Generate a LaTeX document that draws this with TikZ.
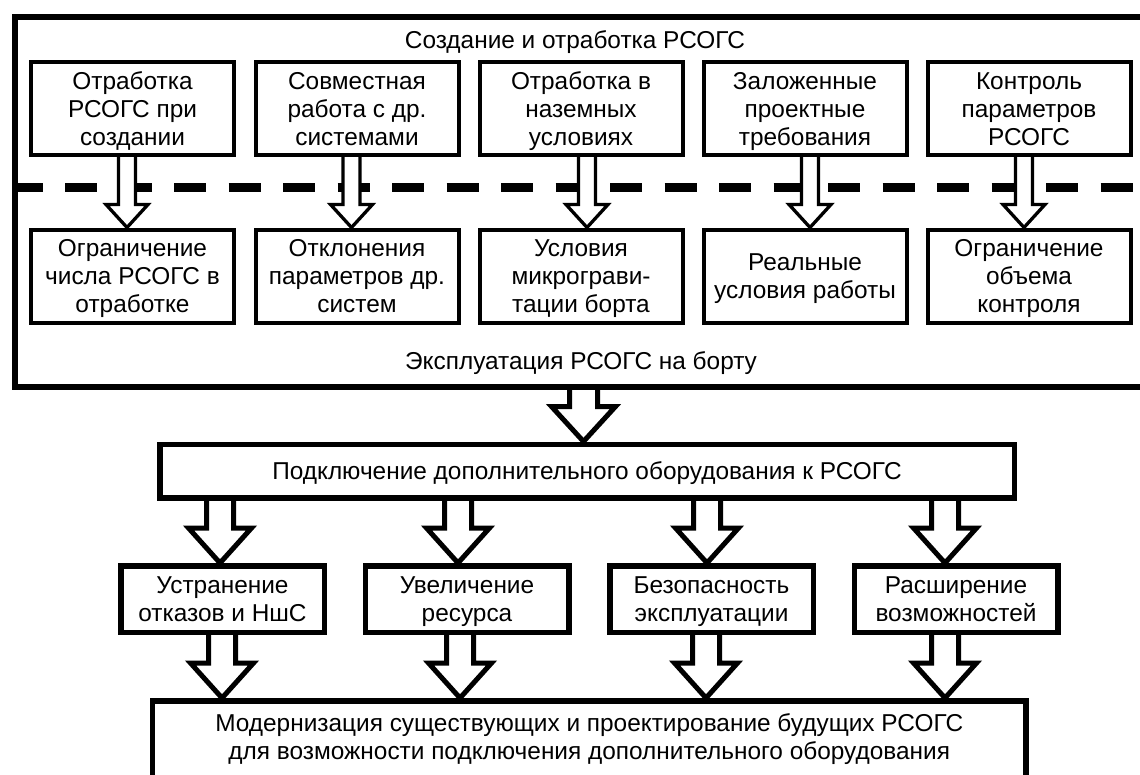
\documentclass[tikz,border=0pt]{standalone}
\usepackage{fontspec}
\setmainfont{Liberation Sans}
\usetikzlibrary{calc}
\pgfdeclarelayer{bg}
\pgfsetlayers{bg,main}
\newcommand\topstr{\rule{0pt}{26pt}}
\newcommand\botstr{\rule[-8.4pt]{0pt}{8.4pt}}
\tikzset{
  txt/.style={font=\fontsize{24.4}{28}\selectfont, align=center, inner sep=0pt},
  topbox/.style={txt, draw, fill=white, line width=4pt, minimum width=203pt, minimum height=93pt},
  lowbox/.style={txt, draw, fill=white, line width=5.5pt, minimum width=203.5pt, minimum height=66.5pt},
  thinarr/.style={draw, fill=white, line width=3.3pt, line join=miter},
  thickarr/.style={draw, fill=white, line width=5pt, line join=miter},
}
\newcommand\blockarr[7]{%
  \path[#1] let \p1=(#4,0), \p2=(#2.south), \p3=(#3.north) in
  (\x1-#5,\y2) -- (\x1-#5,\y3+#7) -- (\x1-#6,\y3+#7) -- (\x1,\y3)
  -- (\x1+#6,\y3+#7) -- (\x1+#5,\y3+#7) -- (\x1+#5,\y2);}
\begin{document}
\begin{tikzpicture}[x=1pt,y=-1pt]
\clip (0,0) rectangle (1140,774);
% outer frame
\node[draw, line width=6pt, inner sep=0pt, minimum width=1200pt, minimum height=370pt, anchor=north west] (frame) at (12,14) {};
\node[txt] (ttop) at (575,40) {\topstr Создание и отработка РСОГС\botstr};
\node[txt] (tbot) at (581,361) {\topstr Эксплуатация РСОГС на борту\botstr};
% row 1
\node[topbox] (a1) at (132.5,108.5) {\topstr Отработка\\РСОГС при\\создании\botstr};
\node[topbox] (a2) at (357,108.5) {\topstr Совместная\\работа с др.\\системами\botstr};
\node[topbox] (a3) at (581,108.5) {\topstr Отработка в\\наземных\\условиях\botstr};
\node[topbox] (a4) at (805,108.5) {\topstr Заложенные\\проектные\\требования\botstr};
\node[topbox] (a5) at (1029,108.5) {\topstr Контроль\\параметров\\РСОГС\botstr};
% row 2
\node[topbox] (b1) at (132.5,276) {\topstr Ограничение\\числа РСОГС в\\отработке\botstr};
\node[topbox] (b2) at (357,276) {\topstr Отклонения\\параметров др.\\систем\botstr};
\node[topbox] (b3) at (581,276) {\topstr Условия\\микрограви-\\тации борта\botstr};
\node[topbox] (b4) at (805,276) {\topstr Реальные\\условия работы\botstr};
\node[topbox] (b5) at (1029,276) {\topstr Ограничение\\объема\\контроля\botstr};
% lower part
\node[txt, draw, fill=white, line width=5.5pt, minimum width=854.5pt, minimum height=53.5pt] (p) at (587,471) {\topstr Подключение дополнительного оборудования к РСОГС\botstr};
\node[lowbox] (c1) at (222.5,599) {\topstr Устранение\\отказов и НшС\botstr};
\node[lowbox] (c2) at (467,599) {\topstr Увеличение\\ресурса\botstr};
\node[lowbox] (c3) at (711.5,599) {\topstr Безопасность\\эксплуатации\botstr};
\node[lowbox] (c4) at (956,599) {\topstr Расширение\\возможностей\botstr};
\node[txt, draw, fill=white, line width=5.5pt, minimum width=873.5pt, inner ysep=5pt, anchor=north] (m) at (589.25,698) {\topstr Модернизация существующих и проектирование будущих РСОГС\\для возможности подключения дополнительного оборудования\rule[-30pt]{0pt}{1pt}};
\begin{pgfonlayer}{bg}
\fill[white] (0,0) rectangle (1140,774);
\draw[line width=9pt, dash pattern=on 32pt off 22.5pt, dash phase=1.5pt] (12,187) -- (1160,187);
\blockarr{thinarr}{a1}{b1}{127}{8.5pt}{21pt}{23pt}
\blockarr{thinarr}{a2}{b2}{351.5}{8.5pt}{21pt}{23pt}
\blockarr{thinarr}{a3}{b3}{587}{8.5pt}{21pt}{23pt}
\blockarr{thinarr}{a4}{b4}{810}{8.5pt}{21pt}{23pt}
\blockarr{thinarr}{a5}{b5}{1024}{8.5pt}{21pt}{23pt}
\blockarr{thickarr}{frame}{p}{583.5}{14pt}{32pt}{35pt}
\blockarr{thickarr}{p}{c1}{220}{13.5pt}{31.5pt}{35pt}
\blockarr{thickarr}{p}{c2}{458}{13.5pt}{31.5pt}{35pt}
\blockarr{thickarr}{p}{c3}{707}{13.5pt}{31.5pt}{35pt}
\blockarr{thickarr}{p}{c4}{945}{13.5pt}{31.5pt}{35pt}
\blockarr{thickarr}{c1}{m}{222}{13.5pt}{31.5pt}{35pt}
\blockarr{thickarr}{c2}{m}{460}{13.5pt}{31.5pt}{35pt}
\blockarr{thickarr}{c3}{m}{706}{13.5pt}{31.5pt}{35pt}
\blockarr{thickarr}{c4}{m}{945}{13.5pt}{31.5pt}{35pt}
\end{pgfonlayer}
\end{tikzpicture}
\end{document}
